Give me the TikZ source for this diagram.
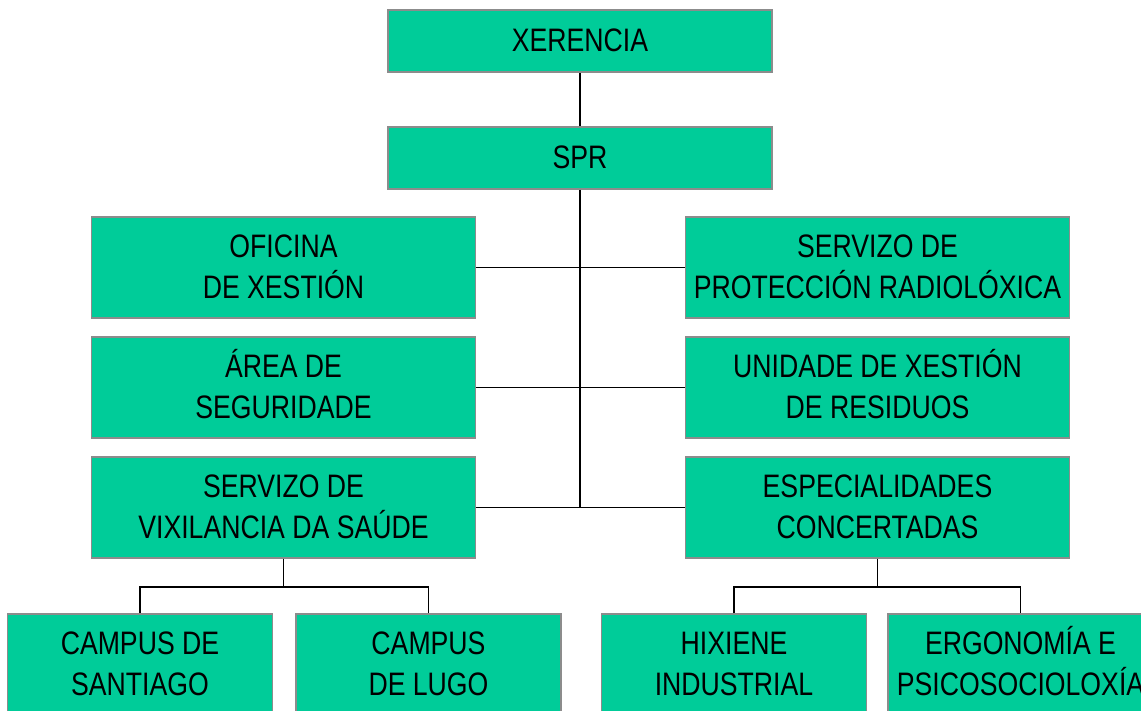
\documentclass[tikz,border=0pt]{standalone}
\usepackage{fontspec}
\setmainfont{Liberation Sans}[FakeStretch=0.82]
\definecolor{boxgreen}{HTML}{00CC99}
\definecolor{boxedge}{HTML}{8C8C8C}
\newcommand\oneln[1]{\rule{0pt}{23.3pt}\smash{#1}\rule[-2pt]{0pt}{2pt}}
\newcommand\twoln[2]{\rule{0pt}{23.3pt}\smash{#1}\\\smash{#2}\rule[-2pt]{0pt}{2pt}}
\begin{document}
\begin{tikzpicture}[x=1pt,y=-1pt,
  orgbox/.style={draw=boxedge,line width=1.8pt,fill=boxgreen,inner sep=0pt,
    align=center,font=\fontsize{32.5}{41.5}\selectfont},
  wide/.style={orgbox,minimum width=384pt,minimum height=62pt},
  mid/.style={orgbox,minimum width=384pt,minimum height=101pt},
  low/.style={orgbox,minimum width=265pt,minimum height=101pt},
  link/.style={draw=black,line width=1.5pt},
  trunk/.style={draw=black,line width=2.2pt}]
\useasboundingbox (0,0) rectangle (1141,711);
\node[wide] (xer) at (580,41) {\oneln{XERENCIA}};
\node[wide] (spr) at (580,158) {\oneln{SPR}};
\node[mid] (ofi) at (283.5,267.5) {\twoln{OFICINA}{DE XESTIÓN}};
\node[mid] (area) at (283.5,387.5) {\twoln{ÁREA DE}{SEGURIDADE}};
\node[mid] (svs) at (283.5,507.5) {\twoln{SERVIZO DE}{VIXILANCIA DA SAÚDE}};
\node[mid] (prot) at (877.5,267.5) {\twoln{SERVIZO DE}{PROTECCIÓN RADIOLÓXICA}};
\node[mid] (uxr) at (877.5,387.5) {\twoln{UNIDADE DE XESTIÓN}{DE RESIDUOS}};
\node[mid] (esp) at (877.5,507.5) {\twoln{ESPECIALIDADES}{CONCERTADAS}};
\node[low] (sant) at (140,664.5) {\twoln{CAMPUS DE}{SANTIAGO}};
\node[low] (lugo) at (428.5,664.5) {\twoln{CAMPUS}{DE LUGO}};
\node[low] (hix) at (734,664.5) {\twoln{HIXIENE}{INDUSTRIAL}};
\node[low] (erg) at (1020.5,664.5) {\twoln{ERGONOMÍA E}{PSICOSOCIOLOXÍA}};
\coordinate (tend) at (580,507.5);
\coordinate (lbar) at (283.5,587);
\coordinate (rbar) at (877.5,587);
\draw[link] (xer.south) -- (spr.north);
\draw[trunk] (spr.south) -- (tend);
\draw[link] (ofi.east) -- (prot.west);
\draw[link] (area.east) -- (uxr.west);
\draw[link] (svs.east) -- (esp.west);
\draw[link] (svs.south) -- (lbar);
\draw[link] (sant.north) |- (lbar) -| (lugo.north);
\draw[link] (esp.south) -- (rbar);
\draw[link] (hix.north) |- (rbar) -| (erg.north);
\end{tikzpicture}
\end{document}
